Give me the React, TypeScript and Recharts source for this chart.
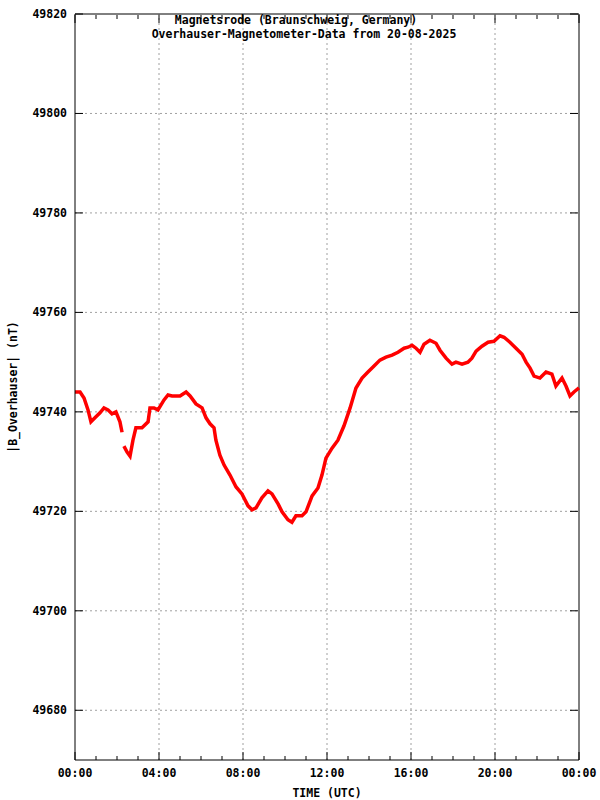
import React from "react";
import { CartesianGrid, Line, LineChart, ReferenceLine, XAxis, YAxis } from "recharts";

// hours since 00:00 UTC
const hours = [
  0, 0.24, 0.43, 0.62, 0.76, 0.95, 1.19, 1.38, 1.57, 1.76, 1.95, 2.14, 2.24, 2.3, 2.33, 2.48, 2.62,
  2.76, 2.9, 3.19, 3.48, 3.57, 3.76, 3.95, 4.24, 4.43, 4.62, 4.81, 5.0, 5.29, 5.48, 5.76, 6.05,
  6.24, 6.43, 6.62, 6.71, 6.9, 7.1, 7.38, 7.67, 7.95, 8.24, 8.43, 8.62, 8.9, 9.19, 9.38, 9.67,
  9.86, 10.14, 10.33, 10.52, 10.81, 11.0, 11.29, 11.57, 11.76, 11.95, 12.24, 12.52, 12.81, 13.1,
  13.38, 13.67, 13.95, 14.24, 14.52, 14.81, 15.1, 15.38, 15.67, 15.86, 16.05, 16.24, 16.43, 16.62,
  16.9, 17.19, 17.38, 17.67, 17.95, 18.14, 18.43, 18.71, 18.9, 19.1, 19.38, 19.67, 19.95, 20.24,
  20.43, 20.71, 21.0, 21.29, 21.48, 21.67, 21.86, 22.14, 22.43, 22.71, 22.9, 23.19, 23.38, 23.57,
  23.76, 24.0,
];

// |B| in nT, null = data gap
const fieldNT: (number | null)[] = [
  49744.0, 49744.0, 49742.8, 49740.4, 49738.0, 49738.8, 49739.8, 49740.8, 49740.4, 49739.6, 49740.0,
  49738.0, 49735.9, null, 49733.1, 49731.9, 49731.1, 49734.3, 49736.8, 49736.8, 49738.0, 49740.8,
  49740.8, 49740.4, 49742.4, 49743.4, 49743.2, 49743.2, 49743.2, 49744.0, 49743.2, 49741.6, 49740.8,
  49738.8, 49737.6, 49736.8, 49734.3, 49731.3, 49729.3, 49727.3, 49724.9, 49723.5, 49721.1, 49720.3,
  49720.7, 49722.7, 49724.1, 49723.5, 49721.5, 49719.9, 49718.3, 49717.8, 49719.1, 49719.1, 49719.9,
  49723.1, 49724.7, 49727.3, 49730.7, 49732.7, 49734.3, 49737.2, 49740.8, 49744.8, 49746.8, 49748.0,
  49749.2, 49750.4, 49751.0, 49751.4, 49752.0, 49752.8, 49753.0, 49753.4, 49752.8, 49752.0, 49753.6,
  49754.4, 49753.8, 49752.4, 49750.8, 49749.6, 49750.0, 49749.6, 49750.0, 49750.8, 49752.2, 49753.2,
  49754.0, 49754.2, 49755.3, 49755.0, 49754.0, 49752.8, 49751.6, 49750.0, 49748.8, 49747.2, 49746.8,
  49748.0, 49747.6, 49745.2, 49746.8, 49745.2, 49743.2, 49744.0, 49744.8,
];

const hourTicks = [0, 1, 2, 3, 4, 5, 6, 7, 8, 9, 10, 11, 12, 13, 14, 15, 16, 17, 18, 19, 20, 21, 22, 23, 24];
const gridHours = [4, 8, 12, 16, 20];
const nTTicks = [49680, 49700, 49720, 49740, 49760, 49780, 49800, 49820];
const gridNT = [49680, 49700, 49720, 49740, 49760, 49780, 49800];

const data = hours.map((h, i) => ({ h, b: fieldNT[i] }));

const FONT = "'DejaVu Sans Mono', 'Liberation Mono', monospace";
const textStyle: React.CSSProperties = {
  position: "absolute",
  fontFamily: FONT,
  fontWeight: "bold",
  fontSize: 11.5,
  lineHeight: "14px",
  color: "#000",
  whiteSpace: "nowrap",
  textAlign: "center",
};

const fmtHour = (h: number) => `${String(h % 24).padStart(2, "0")}:00`;

function BottomTick(props: any) {
  const { x, y, payload } = props;
  const major = payload.value % 4 === 0;
  return (
    <g>
      <line x1={x} y1={y} x2={x} y2={y - (major ? 8 : 4)} stroke="#000" />
      {major && (
        <text x={x} y={y + 17} textAnchor="middle" fontFamily={FONT} fontWeight="bold" fontSize={11.5} fill="#000">
          {fmtHour(payload.value)}
        </text>
      )}
    </g>
  );
}

function TopTick(props: any) {
  const { x, y, payload } = props;
  const major = payload.value % 4 === 0;
  return <line x1={x} y1={y + 1} x2={x} y2={y + 1 + (major ? 8 : 4)} stroke="#000" />;
}

function LeftTick(props: any) {
  const { x, y, payload } = props;
  return (
    <g>
      <line x1={x} y1={y} x2={x + 8} y2={y} stroke="#000" />
      <text x={x - 8} y={y + 4} textAnchor="end" fontFamily={FONT} fontWeight="bold" fontSize={11.5} fill="#000">
        {payload.value}
      </text>
    </g>
  );
}

function RightTick(props: any) {
  const { x, y } = props;
  return <line x1={x - 1} y1={y} x2={x - 9} y2={y} stroke="#000" />;
}

export default function App() {
  return (
    <div style={{ position: "absolute", left: 0, top: 0, width: 600, height: 800, background: "#fff" }}>
      <LineChart width={600} height={800} data={data} margin={{ top: 13, right: 20, bottom: 0, left: 0 }}>
        <CartesianGrid vertical={false} horizontalValues={gridNT} stroke="#a0a0a0" strokeDasharray="2 3" />
        {gridHours.map((h) => (
          <ReferenceLine key={h} x={h} stroke="#a0a0a0" strokeDasharray="2 3" />
        ))}
        <XAxis
          dataKey="h"
          type="number"
          domain={[0, 24]}
          ticks={hourTicks}
          interval={0}
          height={40}
          tickSize={0}
          tickMargin={0}
          tick={<BottomTick />}
          stroke="#000"
        />
        <XAxis
          xAxisId="top"
          dataKey="h"
          orientation="top"
          type="number"
          domain={[0, 24]}
          ticks={hourTicks}
          interval={0}
          height={1}
          tickSize={0}
          tickMargin={0}
          tick={<TopTick />}
          axisLine={false}
          allowDataOverflow
        />
        <YAxis
          type="number"
          domain={[49670, 49820]}
          ticks={nTTicks}
          interval={0}
          width={75}
          tickSize={0}
          tickMargin={0}
          tick={<LeftTick />}
          stroke="#000"
          allowDataOverflow
        />
        <YAxis
          yAxisId="right"
          orientation="right"
          type="number"
          domain={[49670, 49820]}
          ticks={nTTicks}
          interval={0}
          width={1}
          tickSize={0}
          tickMargin={0}
          tick={<RightTick />}
          axisLine={false}
          allowDataOverflow
        />
        {/* frame lines along top and right edge */}
        <ReferenceLine xAxisId="top" yAxisId="right" y={49820} stroke="#000" />
        <ReferenceLine xAxisId="top" yAxisId="right" x={24} stroke="#000" />
        {/* invisible twin so the top and right frame axes get drawn */}
        <Line
          xAxisId="top"
          yAxisId="right"
          type="linear"
          dataKey="b"
          stroke="none"
          strokeWidth={0}
          dot={false}
          activeDot={false}
          legendType="none"
          isAnimationActive={false}
        />
        <Line
          type="linear"
          dataKey="b"
          stroke="#ff0000"
          strokeWidth={3.5}
          dot={false}
          isAnimationActive={false}
        />
      </LineChart>
      <div style={{ ...textStyle, left: 96, width: 400, top: 13 }}>Magnetsrode (Braunschweig, Germany)</div>
      <div style={{ ...textStyle, left: 104, width: 400, top: 27 }}>Overhauser-Magnetometer-Data from 20-08-2025</div>
      <div style={{ ...textStyle, left: 227, width: 200, top: 786 }}>TIME (UTC)</div>
      <div
        style={{
          ...textStyle,
          left: 13 - 100,
          width: 200,
          top: 387 - 7,
          transform: "rotate(-90deg)",
        }}
      >
        |B_Overhauser| (nT)
      </div>
    </div>
  );
}
